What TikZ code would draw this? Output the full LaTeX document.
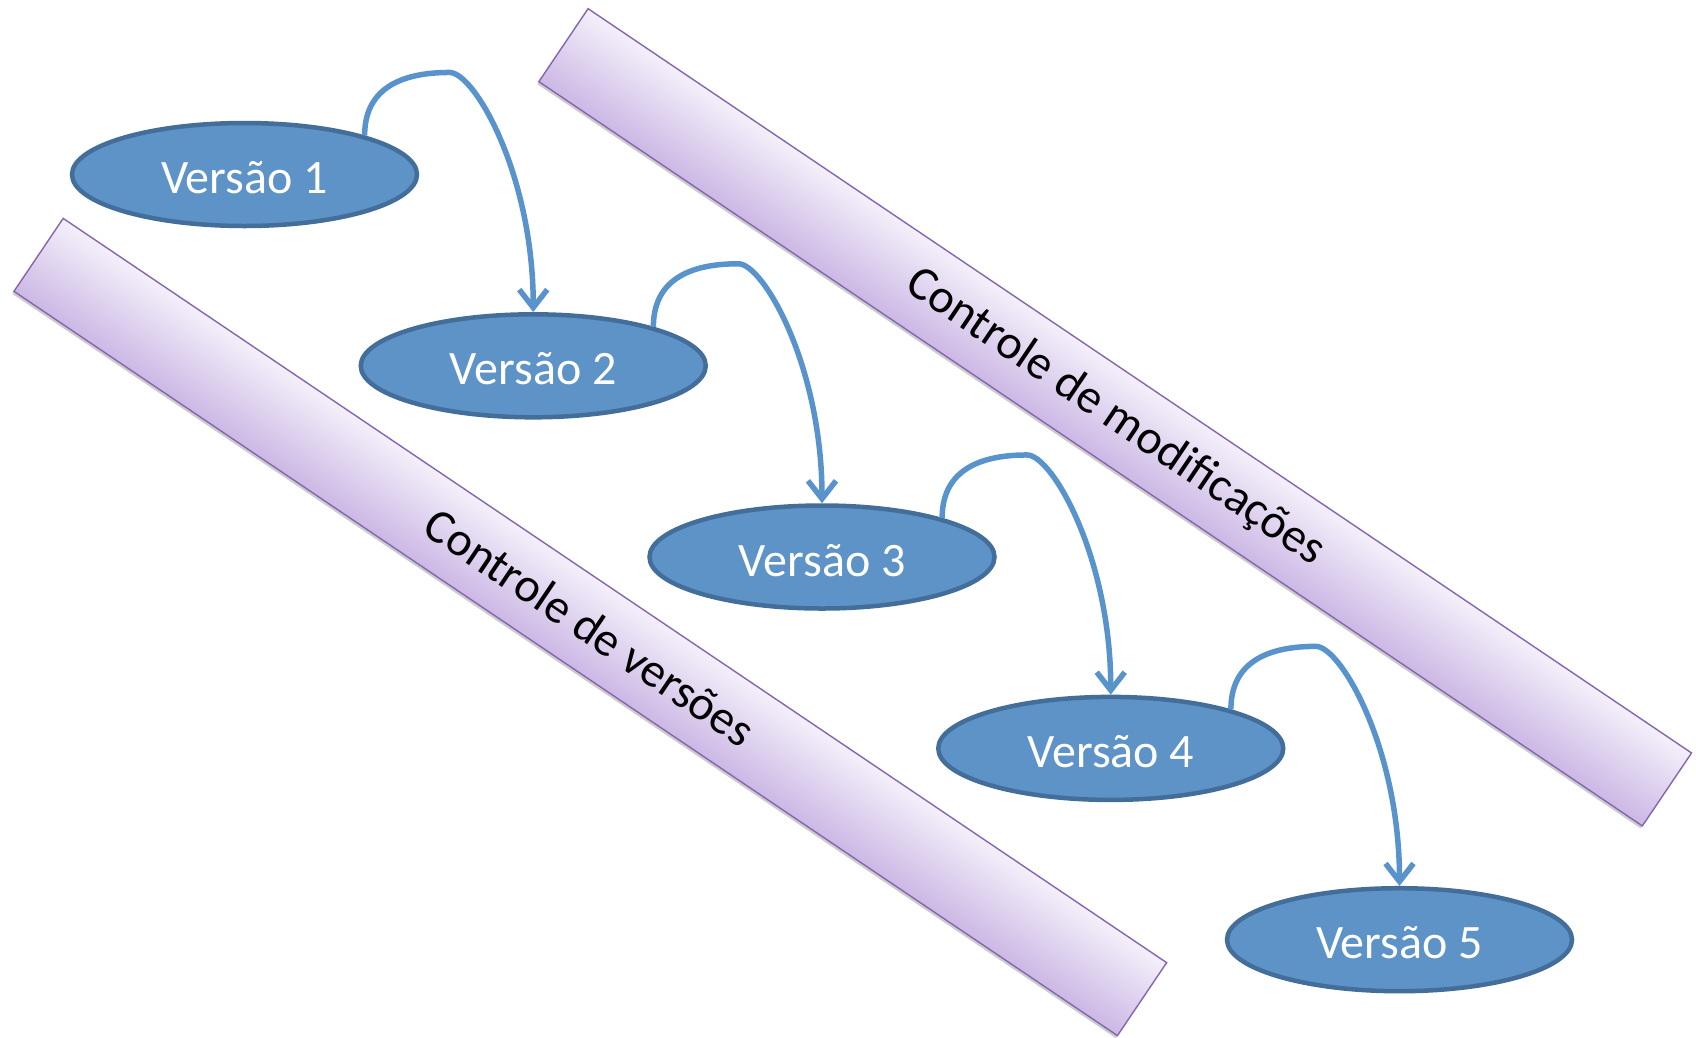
\documentclass[tikz,border=0pt]{standalone}
\usepackage{fontspec}
\setmainfont{Carlito}
\usetikzlibrary{shapes.geometric,arrows.meta,shadows,calc}
\definecolor{vfill}{HTML}{5E93C8}
\definecolor{vborder}{HTML}{436E9A}
\definecolor{arrowblue}{HTML}{5993CB}
\definecolor{bandtop}{HTML}{F4F0FA}
\definecolor{bandbot}{HTML}{CCB8E5}
\definecolor{bandline}{HTML}{8466AE}
\begin{document}
\begin{tikzpicture}[x=1pt,y=-1pt,
  ver/.style={ellipse, draw=vborder, fill=vfill, line width=4.5pt,
    minimum width=345pt, minimum height=103pt, inner sep=0pt,
    text=white, font=\fontsize{48}{57}\selectfont,
    text height=38pt, text depth=0pt},
  bandshape/.style={draw=bandline, line width=1.4pt,
    top color=bandtop, bottom color=bandbot,
    drop shadow={shadow xshift=0pt, shadow yshift=-3pt, opacity=0.2, fill=black}},
  bandtext/.style={font=\fontsize{48}{57}\selectfont, text=black, inner sep=0pt},
  arr/.style={draw=arrowblue, line width=5.5pt,
    -{Straight Barb[length=18pt,width=28pt]}}
]
\useasboundingbox (0,0) rectangle (1696,1037);
\fill[white] (0,0) rectangle (1696,1037);

\begin{scope}[transform canvas={shift={(590.3,627)}, rotate=-34}]
  \path[bandshape] (-665.5,-44) rectangle (665.5,44);
  \node[bandtext] (b1) at (0,0) {Controle de versões};
\end{scope}
\begin{scope}[transform canvas={shift={(1115.2,417.3)}, rotate=-34}]
  \path[bandshape] (-665.5,-44) rectangle (665.5,44);
  \node[bandtext] (b2) at (0,0) {Controle de modificações};
\end{scope}

\node[ver] (v1) at (244.5,174.5) {Versão 1};
\node[ver] (v2) at (533.25,365.8) {Versão 2};
\node[ver] (v3) at (822,557) {Versão 3};
\node[ver] (v4) at (1110.75,748.4) {Versão 4};
\node[ver] (v5) at (1399.5,939.7) {Versão 5};

\foreach \a/\b in {v1/v2, v2/v3, v3/v4, v4/v5}{
  \draw[arr] (\a.18) .. controls +(0,-55) and +(-35,0) .. ($(\a.18)+(85,-63)$)
    .. controls +(25,0) and +(0,-137) .. (\b.north);
}
\end{tikzpicture}
\end{document}
